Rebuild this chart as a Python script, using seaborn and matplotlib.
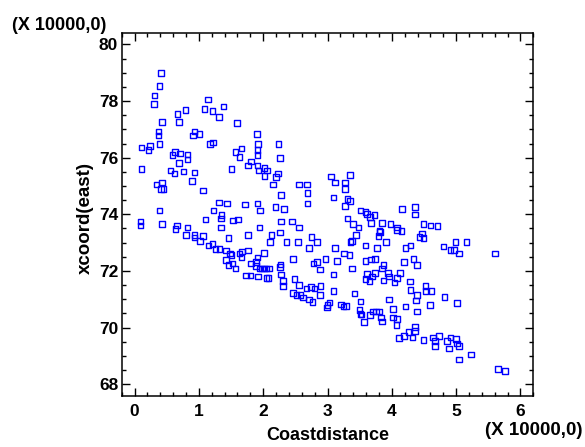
import matplotlib
matplotlib.use("Agg")
import matplotlib.pyplot as plt
from matplotlib.ticker import MultipleLocator
import seaborn as sns
import pandas as pd

# Coastdistance and xcoord(east), both in units of 10000
coastdistance = [
    0.41, 0.39, 0.31, 0.30, 1.14, 1.09, 1.21, 1.38, 1.31, 0.67, 0.79, 0.43, 0.69, 1.59,
    0.37, 0.37, 0.39, 0.93, 0.91, 1.01, 1.17, 1.22, 1.90, 1.92, 0.11, 0.24, 0.22, 0.63,
    0.59, 0.71, 0.82, 0.82, 0.69, 0.11, 0.56, 0.62, 0.76, 0.93, 0.89, 0.34, 0.43, 0.41,
    0.45, 1.06, 1.66, 1.57, 1.63, 1.91, 1.91, 1.81, 1.76, 1.91, 1.93, 2.02, 2.02, 1.51,
    1.31, 1.44, 1.72, 1.91, 1.95, 1.23, 0.39, 1.35,
    0.09, 0.09, 0.43, 1.34, 1.53, 1.61, 1.10, 0.66, 0.64, 0.82, 1.34, 1.94, 0.80, 0.93,
    0.93, 1.06, 1.02, 1.46, 1.76, 1.15, 1.21, 1.26, 1.32, 1.42, 1.48, 1.51, 1.42, 1.46,
    1.52, 1.57, 1.63, 1.67, 1.66, 1.76, 1.81, 1.91, 1.89, 1.89, 1.94, 2.01, 2.01, 1.73,
    1.80, 1.92, 2.05,
    2.24, 2.26, 2.06, 2.23, 2.20, 2.15, 2.56, 2.68, 2.69, 2.28, 2.19, 2.32, 2.69, 3.05,
    3.12, 3.35, 3.27, 3.27, 3.09, 3.31, 3.35, 3.27, 3.51, 3.59, 3.61, 3.73, 3.31, 4.16,
    2.28, 2.45, 2.56, 2.13, 2.26, 2.11, 2.36, 2.54, 2.75, 2.84, 2.71, 1.98, 2.04, 2.09,
    2.08, 2.27, 2.26, 2.28, 2.31, 2.31, 2.46, 2.78, 2.84, 2.88, 2.97, 3.15, 3.09, 3.12,
    3.26, 3.34, 3.38, 3.40, 3.48, 3.44, 3.38, 3.36, 3.66, 3.68, 3.85, 3.98, 4.08, 4.08,
    3.81, 3.82, 3.79, 3.91, 3.59, 3.77, 3.59, 3.68, 3.74, 3.87, 3.85, 3.61, 3.69, 3.74,
    3.59, 3.65, 3.87, 3.94, 3.96, 4.04, 4.08, 4.13, 2.49, 2.56, 2.67, 2.74, 2.80, 2.89,
    2.88, 3.09, 2.46, 2.52, 2.58, 2.62, 2.71, 2.77, 3.03, 3.00, 2.99, 3.21, 3.25, 3.29,
    3.42, 3.51, 3.50, 3.51, 3.53, 3.57, 3.66, 3.71, 3.75, 3.80, 3.83, 3.85, 3.96, 4.02,
    4.02, 4.08, 4.07, 4.11,
    4.36, 4.36, 4.15, 4.49, 4.60, 4.71, 4.47, 4.43, 4.49, 4.21, 4.29, 4.80, 4.99, 5.16,
    4.91, 4.97, 5.04, 5.60, 4.34, 4.39, 4.19, 4.28, 4.29, 4.39, 4.38, 4.52, 4.52, 4.62,
    4.82, 5.01, 4.59, 4.21, 4.39, 4.36, 4.36, 4.26, 4.32, 4.19, 4.49, 4.64, 4.73, 4.67,
    4.67, 4.86, 4.91, 5.00, 5.01, 5.04, 4.89, 5.23, 5.04, 5.65, 5.76,
]
xcoord_east = [
    79.00, 78.53, 78.19, 77.90, 78.06, 77.72, 77.65, 77.80, 77.43, 77.55, 77.68, 77.26, 77.26, 77.22,
    76.92, 76.78, 76.49, 76.92, 76.78, 76.83, 76.49, 76.53, 76.83, 76.49, 76.36, 76.41, 76.28, 76.20,
    76.10, 76.15, 76.12, 75.94, 75.81, 75.60, 75.55, 75.44, 75.52, 75.47, 75.18, 75.05, 75.13, 74.89,
    74.89, 74.84, 76.33, 76.20, 76.02, 76.28, 76.10, 75.86, 75.73, 75.73, 75.55, 75.64, 75.36, 75.60,
    74.42, 74.38, 74.34, 74.38, 74.13, 74.13, 74.13, 73.98,
    73.75, 73.61, 73.66, 73.86, 73.79, 73.82, 73.82, 73.61, 73.49, 73.54, 73.54, 73.54, 73.27, 73.27,
    73.18, 73.24, 73.06, 73.16, 73.27, 72.90, 72.95, 72.77, 72.77, 72.73, 72.61, 72.57, 72.39, 72.21,
    72.27, 72.09, 72.61, 72.68, 72.47, 72.73, 72.27, 72.47, 72.31, 72.18, 72.09, 72.09, 72.64, 71.84,
    71.84, 71.80, 71.75,
    76.49, 75.99, 75.55, 75.44, 75.31, 75.06, 75.05, 75.05, 74.76, 74.68, 74.26, 74.18, 74.39, 75.34,
    75.13, 75.39, 75.13, 74.89, 74.60, 74.54, 74.47, 74.29, 74.13, 74.09, 74.01, 73.98, 73.86, 74.18,
    73.74, 73.74, 73.53, 73.27, 73.36, 73.02, 73.02, 73.02, 73.20, 73.02, 72.81, 72.09, 72.09, 72.09,
    71.75, 72.23, 72.15, 71.88, 71.64, 71.46, 72.43, 72.27, 72.32, 72.05, 72.43, 72.35, 71.88, 72.82,
    72.61, 72.56, 72.09, 73.66, 73.53, 73.27, 73.06, 73.02, 73.91, 73.70, 73.70, 73.66, 73.53, 73.44,
    73.42, 73.37, 73.24, 73.02, 72.90, 72.82, 72.35, 72.40, 72.43, 72.22, 72.09, 71.89, 71.80, 71.93,
    71.72, 71.65, 71.67, 71.92, 71.80, 71.59, 71.75, 71.93, 71.71, 71.51, 71.38, 71.43, 71.38, 71.46,
    71.16, 71.30, 71.22, 71.16, 71.16, 71.06, 70.99, 70.91, 70.88, 70.80, 70.71, 70.82, 70.74, 70.77,
    71.20, 70.92, 70.62, 70.48, 70.46, 70.19, 70.45, 70.57, 70.57, 70.57, 70.36, 70.22, 70.99, 70.66,
    70.36, 70.31, 70.10, 69.64,
    74.26, 74.00, 73.42, 73.66, 73.61, 73.58, 73.32, 73.20, 73.16, 72.82, 72.90, 72.87, 73.03, 73.03,
    72.74, 72.74, 72.61, 72.61, 72.43, 72.22, 72.31, 71.63, 71.33, 71.16, 70.96, 71.46, 71.30, 71.30,
    71.08, 70.87, 70.79, 70.74, 70.57, 70.02, 69.89, 69.85, 69.65, 69.70, 69.57, 69.65, 69.70, 69.52,
    69.35, 69.52, 69.65, 69.60, 69.44, 69.35, 69.27, 69.05, 68.88, 68.54, 68.46,
]

x_major_ticks = [0, 1, 2, 3, 4, 5, 6]
y_major_ticks = [68, 70, 72, 74, 76, 78, 80]

df = pd.DataFrame({"Coastdistance": coastdistance, "xcoord(east)": xcoord_east})

sns.set_theme(style="white")
plt.rcParams["font.family"] = ["Liberation Sans", "DejaVu Sans"]
plt.rcParams["font.weight"] = "bold"

fig = plt.figure(figsize=(5.85, 4.47), dpi=100)
ax = fig.add_axes([0.208, 0.115, 0.7037, 0.811])

sns.scatterplot(data=df, x="Coastdistance", y="xcoord(east)", marker="s",
                s=16, linewidth=1.0, ax=ax, legend=False)
pts = ax.collections[0]
pts.set_facecolor("none")
pts.set_edgecolor("#0000ff")

ax.set_xlim(-0.2, 6.2)
ax.set_ylim(67.6, 80.4)
ax.set_xticks(x_major_ticks)
ax.set_yticks(y_major_ticks)
ax.xaxis.set_minor_locator(MultipleLocator(0.2))
ax.yaxis.set_minor_locator(MultipleLocator(0.5))

for side in ax.spines.values():
    side.set_color("black")
    side.set_linewidth(1.1)

ax.tick_params(which="both", direction="in", top=True, right=True, bottom=True, left=True,
               color="black", width=1.0)
ax.tick_params(which="major", length=6)
ax.tick_params(which="minor", length=3)
ax.tick_params(axis="x", which="major", labelsize=12.5, pad=6, labelcolor="black")
ax.tick_params(axis="y", which="major", labelsize=12.5, pad=2.5, labelcolor="black")
for lab in ax.get_xticklabels() + ax.get_yticklabels():
    lab.set_fontweight("bold")

ax.set_xlabel("Coastdistance", fontsize=13, fontweight="bold", color="black", va="top")
ax.set_ylabel("xcoord(east)", fontsize=13.5, fontweight="bold", color="black")
ax.xaxis.set_label_coords(0.5, -0.0855)
ax.yaxis.set_label_coords(-0.068, 0.49)

fig.text(0.021, 0.944, "(X 10000,0)", fontsize=13, fontweight="bold",
         color="black", ha="left", va="center")
fig.text(0.996, 0.037, "(X 10000,0)", fontsize=13.5, fontweight="bold",
         color="black", ha="right", va="center")

fig.savefig("out.png", dpi=100)
